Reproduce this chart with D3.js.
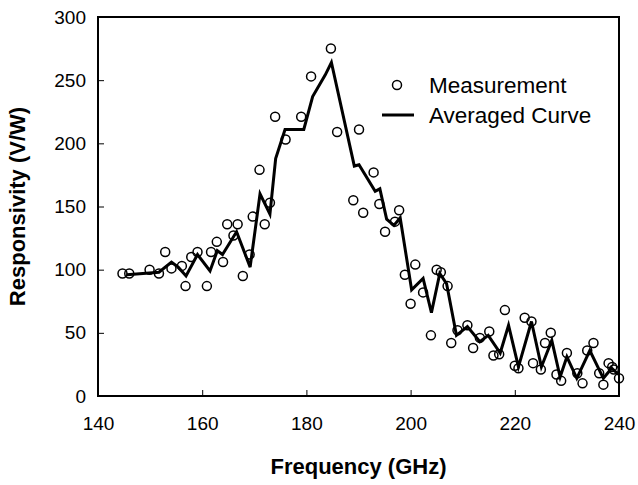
<!DOCTYPE html>
<html>
<head>
<meta charset="utf-8">
<script src="https://cdn.jsdelivr.net/npm/d3@7"></script>
<style>
  body { margin: 0; background: #fff; }
  text { font-family: "Liberation Sans", Arial, sans-serif; }
</style>
</head>
<body>
<script>
// chart size
var w = 638;
var h = 485;
var margin = {top: 17, right: 19, bottom: 89, left: 98};

// measured points: frequency (GHz) and responsivity (V/W)
var measFreq = [144.7, 146.0, 149.9, 151.7, 152.9, 154.1, 156.1, 156.8, 157.9, 159.1,
    160.9, 161.7, 162.8, 164.0, 164.8, 166.0, 166.8, 167.8, 169.1, 169.7,
    171.0, 172.0, 173.0, 174.0, 176.0, 179.0, 180.9, 184.7, 185.9, 189.0,
    190.1, 190.9, 192.9, 194.0, 195.1, 197.0, 197.8, 198.9, 200.0, 200.9,
    202.4, 203.9, 205.0, 205.8, 207.1, 207.8, 209.0, 210.9, 212.0, 213.3,
    215.1, 215.9, 217.0, 218.1, 220.0, 220.7, 221.9, 223.2, 223.5, 225.0,
    225.8, 226.9, 228.0, 228.9, 230.0, 232.0, 233.0, 233.9, 235.1, 236.2,
    237.0, 238.0, 238.7, 239.0, 240.0];
var measResp = [97, 97, 100, 97, 114, 101, 103, 87, 110, 114,
    87, 114, 122, 106, 136, 127, 136, 95, 112, 142,
    179, 136, 153, 221, 203, 221, 253, 275, 209, 155,
    211, 145, 177, 152, 130, 138, 147, 96, 73, 104,
    82, 48, 100, 98, 87, 42, 52, 56, 38, 46,
    51, 32, 33, 68, 24, 22, 62, 59, 26, 21,
    42, 50, 17, 12, 34, 18, 10, 36, 42, 18,
    9, 26, 23, 21, 14];

// averaged curve
var avgFreq = [145.5, 151.7, 154.1, 155.4, 156.9, 159.1, 161.5, 162.9, 163.9, 166.6,
    169.2, 171.1, 173.0, 174.1, 175.9, 179.5, 181.2, 183.6, 184.8, 189.2,
    190.1, 193.2, 194.1, 195.4, 196.8, 198.0, 200.2, 202.4, 204.0, 205.6,
    206.9, 208.8, 210.9, 213.3, 214.9, 217.2, 218.8, 220.7, 223.2, 225.1,
    227.1, 228.7, 230.0, 231.9, 234.4, 237.0, 238.6, 239.9];
var avgResp = [96, 98, 106, 102, 95, 112, 99, 115, 112, 130,
    102, 160, 144, 188, 211, 211, 237, 254, 264, 182,
    183, 162, 164, 140, 135, 141, 84, 93, 66, 97,
    89, 48, 55, 43, 48, 34, 56, 23, 59, 23,
    44, 15, 31, 14, 36, 14, 22, 17];

var xTicks = [140, 160, 180, 200, 220, 240];
var yTicks = [0, 50, 100, 150, 200, 250, 300];

var svg = d3.select("body").append("svg")
    .attr("width", w)
    .attr("height", h);

var xScale = d3.scaleLinear()
    .domain([140, 240])
    .range([margin.left, w - margin.right]);

var yScale = d3.scaleLinear()
    .domain([0, 300])
    .range([h - margin.bottom, margin.top]);

// x axis, ticks pointing into the plot
var xAxis = d3.axisBottom(xScale)
    .tickValues(xTicks)
    .tickSizeInner(-6)
    .tickSizeOuter(0)
    .tickPadding(21)
    .tickFormat(d3.format("d"));

var gx = svg.append("g")
    .attr("transform", "translate(0," + (h - margin.bottom) + ")")
    .call(xAxis);
gx.selectAll("text").attr("font-size", 19).attr("fill", "#000");
gx.selectAll("line").attr("stroke", "#000").attr("stroke-width", 1);

// y axis
var yAxis = d3.axisLeft(yScale)
    .tickValues(yTicks)
    .tickSizeInner(-6)
    .tickSizeOuter(0)
    .tickPadding(12);

var gy = svg.append("g")
    .attr("transform", "translate(" + margin.left + ",0)")
    .call(yAxis);
gy.selectAll("text").attr("font-size", 19).attr("fill", "#000");
gy.selectAll("line").attr("stroke", "#000").attr("stroke-width", 1);
gy.selectAll(".tick").filter(function(d) { return d === 0 || d === 300; })
    .select("line").remove();
gx.selectAll(".tick").filter(function(d) { return d === 140 || d === 240; })
    .select("line").remove();
svg.selectAll(".domain").remove();

// plot frame
svg.append("rect")
    .attr("x", margin.left)
    .attr("y", margin.top)
    .attr("width", w - margin.left - margin.right)
    .attr("height", h - margin.top - margin.bottom)
    .attr("fill", "none")
    .attr("stroke", "#000")
    .attr("stroke-width", 2);

// averaged curve
var line = d3.line()
    .x(function(d, i) { return xScale(avgFreq[i]); })
    .y(function(d, i) { return yScale(avgResp[i]); });

svg.append("path")
    .datum(avgFreq)
    .attr("d", line)
    .attr("fill", "none")
    .attr("stroke", "#000")
    .attr("stroke-width", 3)
    .attr("stroke-linejoin", "miter");

// measurement circles
svg.selectAll("circle.meas")
    .data(measFreq)
    .enter()
    .append("circle")
    .attr("class", "meas")
    .attr("cx", function(d) { return xScale(d); })
    .attr("cy", function(d, i) { return yScale(measResp[i]); })
    .attr("r", 4.5)
    .attr("fill", "none")
    .attr("stroke", "#000")
    .attr("stroke-width", 1.5);

// legend
var legend = svg.append("g").attr("transform", "translate(382,85)");
legend.append("circle")
    .attr("cx", 15).attr("cy", 0).attr("r", 4.5)
    .attr("fill", "none").attr("stroke", "#000").attr("stroke-width", 1.5);
legend.append("text")
    .attr("x", 47).attr("y", 8)
    .attr("font-size", 22.5)
    .text("Measurement");
legend.append("line")
    .attr("x1", 0).attr("x2", 32).attr("y1", 30).attr("y2", 30)
    .attr("stroke", "#000").attr("stroke-width", 3);
legend.append("text")
    .attr("x", 47).attr("y", 38)
    .attr("font-size", 22.5)
    .text("Averaged Curve");

// axis titles
svg.append("text")
    .attr("text-anchor", "middle")
    .attr("x", (margin.left + w - margin.right) / 2)
    .attr("y", 474)
    .attr("font-size", 22)
    .attr("font-weight", "bold")
    .text("Frequency (GHz)");

svg.append("text")
    .attr("text-anchor", "middle")
    .attr("transform", "rotate(-90)")
    .attr("x", -(margin.top + h - margin.bottom) / 2)
    .attr("y", 25)
    .attr("font-size", 22)
    .attr("font-weight", "bold")
    .text("Responsivity (V/W)");
</script>
</body>
</html>
